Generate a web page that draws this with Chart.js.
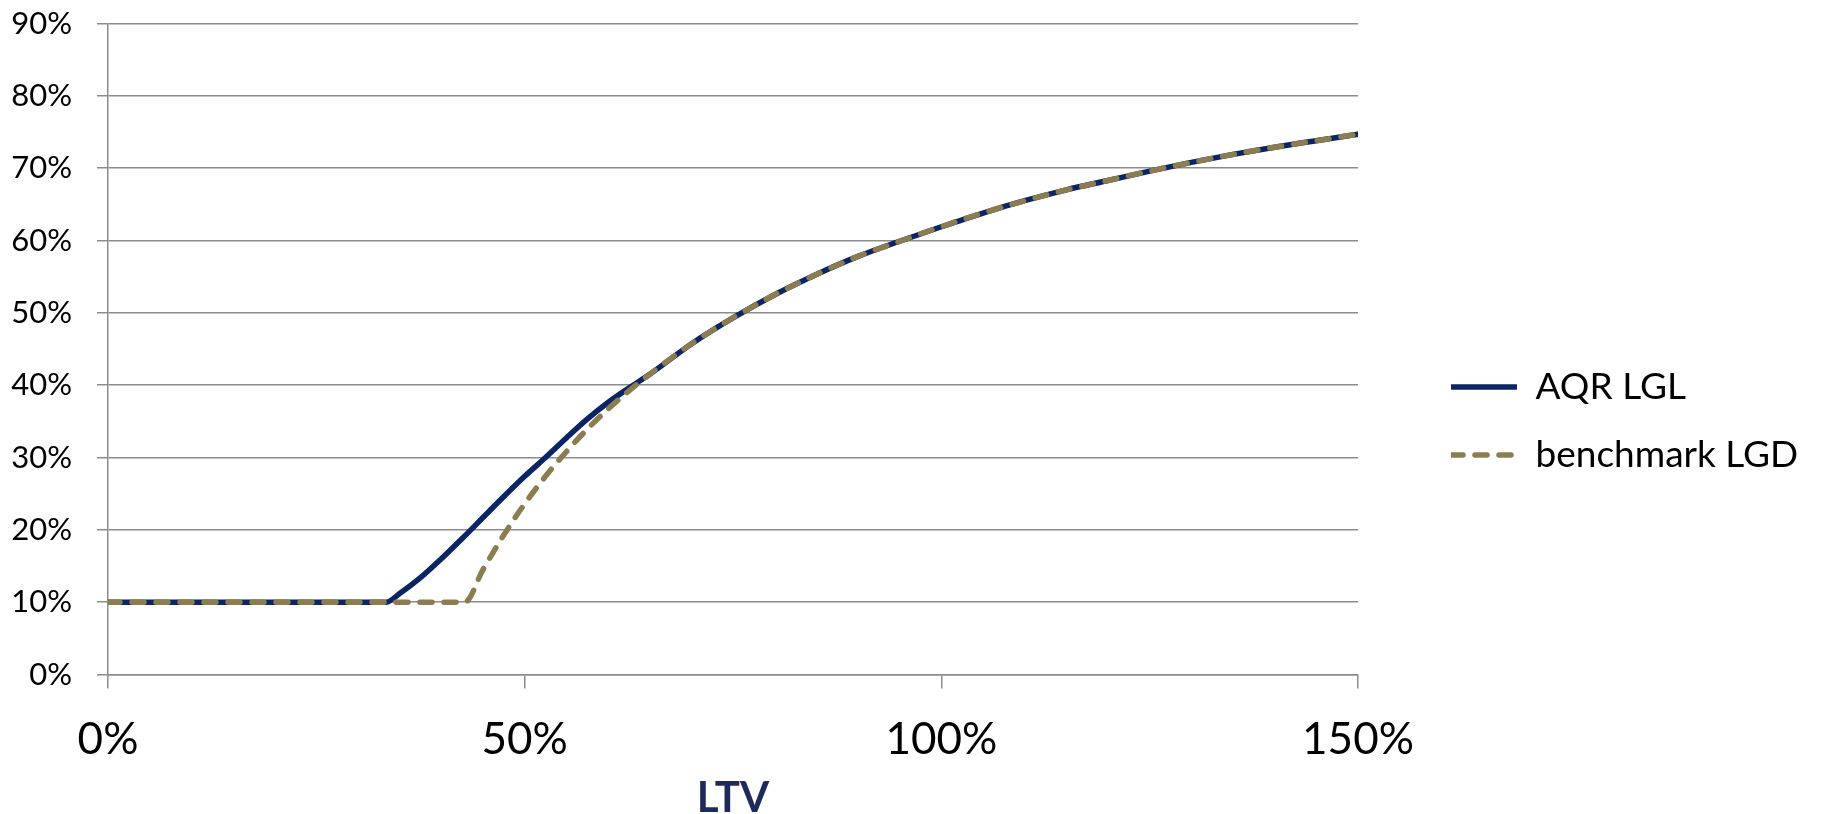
<!DOCTYPE html>
<html>
<head>
<meta charset="utf-8">
<script src="https://cdn.jsdelivr.net/npm/chart.js@4/dist/chart.umd.min.js"></script>
<style>
    html, body { margin: 0; padding: 0; background: #fff; }
    #wrap { width: 1821px; height: 814px; }
</style>
</head>
<body>
<div id="wrap"><canvas id="chart"></canvas></div>
<script>
// values (LTV in %, loss in %)
const aqrLtv = [0, 10, 20, 30, 33.4, 35, 37.5, 40, 42.5, 45, 47.5, 50, 52.5, 55, 57.5, 60, 62.5, 65,
    70, 75, 80, 85, 90, 95, 100, 105, 110, 115, 120, 125, 130, 135, 140, 145, 150];
const aqrLgl = [10, 10, 10, 10, 10, 11.2, 13.4, 16.0, 18.8, 21.7, 24.6, 27.4, 30.0, 32.7, 35.3, 37.6, 39.6, 41.5,
    45.7, 49.3, 52.5, 55.3, 57.8, 59.9, 61.9, 63.8, 65.5, 67.0, 68.3, 69.6, 70.8, 71.9, 72.9, 73.8, 74.7];

const benchLtv = [0, 10, 20, 30, 40, 42.8, 45, 47.5, 50, 52.5, 55, 57.5, 60, 62.5, 65,
    70, 75, 80, 85, 90, 95, 100, 105, 110, 115, 120, 125, 130, 135, 140, 145, 150];
const benchLgd = [10, 10, 10, 10, 10, 10, 14.5, 19.3, 23.6, 27.4, 30.8, 33.9, 36.7, 39.2, 41.5,
    45.7, 49.3, 52.5, 55.3, 57.8, 59.9, 61.9, 63.8, 65.5, 67.0, 68.3, 69.6, 70.8, 71.9, 72.9, 73.8, 74.7];

const seriesNames = ['AQR LGL', 'benchmark LGD'];

const gridGray = '#8c8c8c';
const navy = '#0b2463';
const tan = '#8b7d50';

function toPoints(xs, ys) {
    return xs.map((x, i) => ({ x: x, y: ys[i] }));
}

// legend sits flush against the plot by default, push it right a bit
const legendShift = {
    id: 'legendShift',
    afterLayout(chart) {
        chart.legend.left += 62;
        chart.legend.right += 62;
    }
};

const ctx = document.getElementById('chart').getContext('2d');
const myChart = new Chart(ctx, {
    type: 'line',
    data: {
        datasets: [{
            label: seriesNames[0],
            data: toPoints(aqrLtv, aqrLgl),
            borderColor: navy,
            backgroundColor: navy,
            borderWidth: 5.5,
            borderCapStyle: 'round',
            pointRadius: 0,
            cubicInterpolationMode: 'monotone',
            order: 2
        }, {
            label: seriesNames[1],
            data: toPoints(benchLtv, benchLgd),
            borderColor: tan,
            backgroundColor: tan,
            borderWidth: 5.5,
            borderDash: [12, 12],
            borderCapStyle: 'round',
            pointRadius: 0,
            cubicInterpolationMode: 'monotone',
            order: 1
        }]
    },
    plugins: [legendShift],
    options: {
        responsive: true,
        maintainAspectRatio: false,
        animation: false,
        layout: {
            padding: { left: 0, top: 0, right: 8, bottom: 0 }
        },
        plugins: {
            tooltip: { enabled: false },
            legend: {
                position: 'right',
                title: {
                    display: true,
                    text: ' ',
                    padding: 0,
                    font: { family: 'Lato', size: 28, lineHeight: 1 }
                },
                labels: {
                    // zero-height box -> a line sample, 66 wide so the dashes line up
                    boxWidth: 66,
                    boxHeight: 0,
                    padding: 31,
                    color: '#000',
                    font: { family: 'Lato', size: 37 },
                    sort: (a, b) => a.datasetIndex - b.datasetIndex
                }
            }
        },
        scales: {
            x: {
                type: 'linear',
                min: 0,
                max: 150,
                afterFit: function(scale) {
                    scale.height = 139.5;
                    scale.paddingRight = 463;
                },
                grid: {
                    drawOnChartArea: false,
                    color: gridGray,
                    lineWidth: 1.5,
                    tickLength: 14
                },
                border: { color: gridGray, width: 1.5 },
                ticks: {
                    stepSize: 50,
                    padding: 25,
                    color: '#000',
                    maxRotation: 0,
                    font: { family: 'Lato', size: 44 },
                    callback: function(value) {
                        return value + '%';
                    }
                },
                title: {
                    display: true,
                    text: 'LTV',
                    color: '#1f2a5c',
                    padding: { top: 0, bottom: 0 },
                    font: { family: 'Lato', size: 42, weight: 'bold', lineHeight: 0.76 }
                }
            },
            y: {
                min: 0,
                max: 90,
                afterFit: function(scale) {
                    scale.width = 108;
                    scale.paddingTop = 23.5;
                },
                grid: {
                    color: gridGray,
                    lineWidth: 1.5,
                    tickLength: 11
                },
                border: { color: gridGray, width: 1.5 },
                ticks: {
                    stepSize: 10,
                    padding: 25,
                    color: '#000',
                    font: { family: 'Lato', size: 31 },
                    callback: function(value) {
                        return value + '%';
                    }
                }
            }
        }
    }
});
</script>
</body>
</html>
